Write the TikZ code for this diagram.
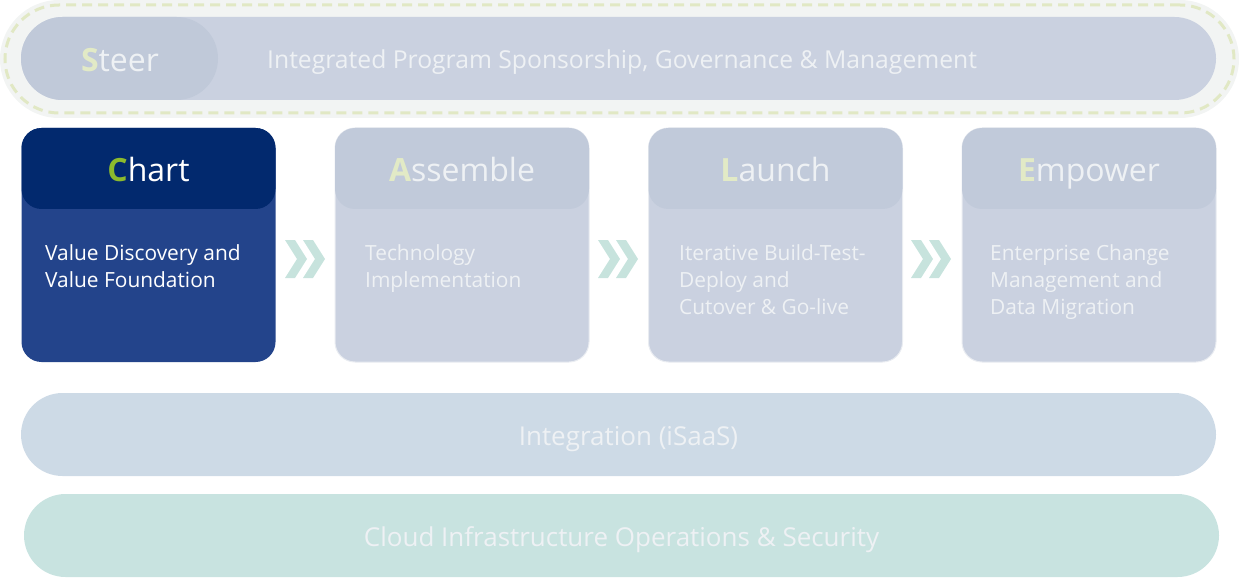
\documentclass[tikz,border=0pt]{standalone}
\usepackage{fontspec}
\setmainfont{Open Sans}
\definecolor{outerbg}{HTML}{F2F4F3}
\definecolor{dashc}{HTML}{E1E8C4}
\definecolor{steerbar}{HTML}{CAD1E0}
\definecolor{steerpill}{HTML}{C0C9D9}
\definecolor{lightbody}{HTML}{CAD1E0}
\definecolor{lighthead}{HTML}{C1CADA}
\definecolor{lightedge}{HTML}{E9ECF1}
\definecolor{chartbody}{HTML}{23448B}
\definecolor{charthead}{HTML}{02296E}
\definecolor{chevc}{HTML}{C7E3DD}
\definecolor{integc}{HTML}{CDDAE6}
\definecolor{cloudc}{HTML}{C8E3E0}
\definecolor{txtlight}{HTML}{EEF1F4}
\definecolor{initlight}{HTML}{E2EAC6}
\definecolor{initchart}{HTML}{8CBA2D}
\tikzset{
  blk/.style={inner sep=0pt, outer sep=0pt, draw=none},
  phasebox/.style={blk, minimum width=254pt, minimum height=234pt, rounded corners=20pt},
  phasehead/.style={blk, minimum width=254pt, minimum height=81pt, rounded corners=20pt},
  headtxt/.style={anchor=base, inner sep=0pt, font=\fontsize{32}{38}\selectfont},
  bodytxt/.style={anchor=base west, inner sep=0pt, font=\fontsize{20.9}{27}\selectfont},
  bartxt/.style={anchor=base, inner sep=0pt, text=txtlight, font=\fontsize{26}{32}\selectfont},
  chev/.style={fill=chevc, draw=none},
  pics/dchev/.style={code={
    \fill[chev] (0,-19) -- (10,-19) -- (22,0) -- (10,19) -- (0,19) -- (12,0) -- cycle;
    \fill[chev] (18,-19) -- (28,-19) -- (40,0) -- (28,19) -- (18,19) -- (30,0) -- cycle;
  }}
}
\begin{document}
\begin{tikzpicture}[x=1pt,y=-1pt]
\useasboundingbox (0,0) rectangle (1239,580);
% Steer band
\node[blk, fill=outerbg, minimum width=1239pt, minimum height=118pt, rounded corners=59pt] (steerout) at (619.5,59) {};
\node[blk, draw=dashc, line width=3pt, dash pattern=on 10pt off 6pt, minimum width=1229pt, minimum height=108pt, rounded corners=54pt] (steerdash) at (619.5,59) {};
\node[blk, fill=steerbar, minimum width=1195pt, minimum height=83pt, rounded corners=41.5pt] (steerbar) at (618.5,58.5) {};
\node[blk, fill=steerpill, minimum width=197pt, minimum height=83pt, rounded corners=41.5pt] (steerpill) at (119.5,58.5) {};
\node[headtxt, text=txtlight] (steerlbl) at (120,72) {\textcolor{initlight}{\textbf{S}}teer};
\node[anchor=base west, inner sep=0pt, text=txtlight, font=\fontsize{24.7}{30}\selectfont] (steerdesc) at (267,69) {Integrated Program Sponsorship, Governance \& Management};
% Phase boxes
\node[phasebox, fill=chartbody] (chart) at (148.5,245) {};
\node[phasehead, fill=charthead] (charth) at (148.5,168.5) {};
\node[phasebox, fill=lightbody, draw=lightedge, line width=1pt] (assemble) at (462,245) {};
\node[phasehead, fill=lighthead] (assembleh) at (462,168.5) {};
\node[phasebox, fill=lightbody, draw=lightedge, line width=1pt] (launch) at (775.5,245) {};
\node[phasehead, fill=lighthead] (launchh) at (775.5,168.5) {};
\node[phasebox, fill=lightbody, draw=lightedge, line width=1pt] (empower) at (1089,245) {};
\node[phasehead, fill=lighthead] (empowerh) at (1089,168.5) {};
% headers
\node[headtxt, text=white] (chartt) at (148.5,182) {\textcolor{initchart}{\textbf{C}}hart};
\node[headtxt, text=txtlight] (assemblet) at (462,182) {\textcolor{initlight}{\textbf{A}}ssemble};
\node[headtxt, text=txtlight] (launcht) at (775.5,182) {\textcolor{initlight}{\textbf{L}}aunch};
\node[headtxt, text=txtlight] (empowert) at (1089,182) {\textcolor{initlight}{\textbf{E}}mpower};
% body texts
\node[bodytxt, text=white] (c1) at (45,260.5) {Value Discovery and};
\node[bodytxt, text=white] (c2) at (45,287) {Value Foundation};
\node[bodytxt, text=txtlight] (a1) at (365,260.5) {Technology};
\node[bodytxt, text=txtlight] (a2) at (365,287) {Implementation};
\node[bodytxt, text=txtlight] (l1) at (679,260.5) {Iterative Build-Test-};
\node[bodytxt, text=txtlight] (l2) at (679,287) {Deploy and};
\node[bodytxt, text=txtlight] (l3) at (679,314) {Cutover \& Go-live};
\node[bodytxt, text=txtlight] (e1) at (990,260.5) {Enterprise Change};
\node[bodytxt, text=txtlight] (e2) at (990,287) {Management and};
\node[bodytxt, text=txtlight] (e3) at (990,314) {Data Migration};
% chevrons
\pic at (285,259) {dchev};
\pic at (598,259) {dchev};
\pic at (911,259) {dchev};
% bottom bars
\node[blk, fill=integc, minimum width=1195pt, minimum height=83pt, rounded corners=41.5pt] (integ) at (618.5,434.5) {};
\node[bartxt] (integt) at (628.5,445) {Integration (iSaaS)};
\node[blk, fill=cloudc, minimum width=1195pt, minimum height=83pt, rounded corners=41.5pt] (cloud) at (621.5,535.5) {};
\node[bartxt] (cloudt) at (621.5,546) {Cloud Infrastructure Operations \& Security};
\end{tikzpicture}
\end{document}
